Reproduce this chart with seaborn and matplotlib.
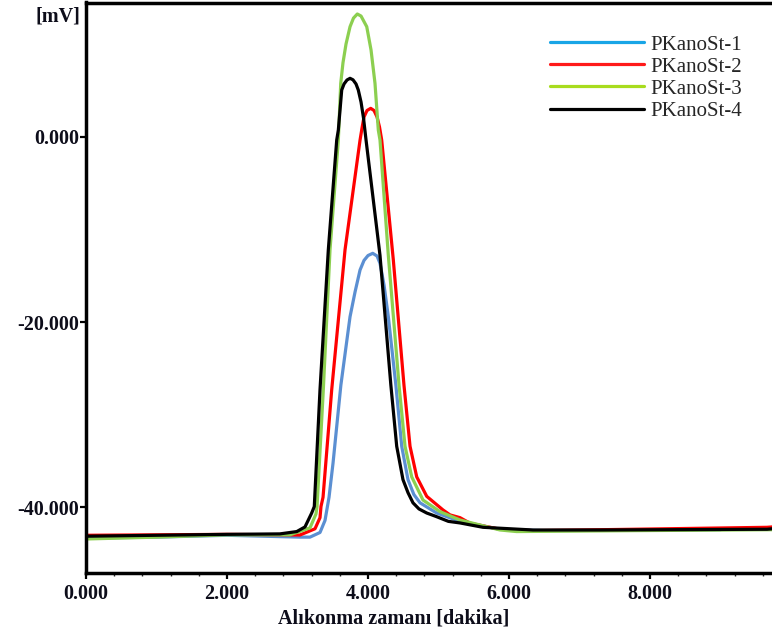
import matplotlib
matplotlib.use("Agg")
import matplotlib.pyplot as plt
from matplotlib.lines import Line2D
from matplotlib.ticker import MultipleLocator, FuncFormatter
import pandas as pd
import seaborn as sns

# retention time [min] and signal [mV]
st1_x = [0.0, 1.0, 2.0, 3.035, 3.177, 3.319, 3.39, 3.447, 3.504, 3.615, 3.745, 3.816,
         3.887, 3.943, 4.0, 4.067, 4.128, 4.17, 4.227, 4.288, 4.395, 4.478, 4.567,
         4.65, 4.738, 4.974, 5.305, 5.404, 5.872, 6.5, 9.0]
st1_y = [-43.3, -43.2, -43.0, -43.2, -43.2, -42.7, -41.4, -38.9, -35.2, -26.8, -19.42, -16.75,
         -14.38, -13.35, -12.82, -12.58, -12.87, -13.66, -16.0, -19.42, -26.8, -33.4, -37.0,
         -38.6, -39.5, -40.6, -41.5, -41.67, -42.35, -42.5, -42.4]

st2_x = [0.0, 1.0, 2.0, 3.035, 3.248, 3.319, 3.333, 3.362, 3.485, 3.674, 3.887, 3.915,
         3.943, 3.986, 4.038, 4.085, 4.128, 4.163, 4.194, 4.359, 4.51, 4.596, 4.691,
         4.833, 5.064, 5.163, 5.305, 5.447, 5.872, 6.34, 7.759, 9.66, 9.73]
st2_y = [-43.0, -42.95, -42.9, -42.97, -42.3, -41.1, -39.9, -38.9, -27.3, -12.2, -0.36, 0.94,
         2.13, 2.83, 3.06, 2.83, 2.13, 1.05, -0.36, -13.3, -26.8, -33.4, -36.7,
         -38.8, -40.27, -40.8, -41.1, -41.7, -42.35, -42.5, -42.35, -42.14, -42.1]

st3_x = [0.0, 1.0, 2.0, 2.894, 3.177, 3.262, 3.277, 3.366, 3.461, 3.579, 3.613, 3.645,
         3.688, 3.745, 3.794, 3.848, 3.901, 3.982, 4.043, 4.099, 4.146, 4.17, 4.288,
         4.44, 4.525, 4.62, 4.78, 5.021, 5.305, 5.872, 6.109, 7.759, 9.177, 9.73]
st3_y = [-43.4, -43.2, -42.95, -42.95, -42.2, -40.7, -39.9, -27.3, -12.2, -0.36, 5.76, 7.98,
         10.0, 11.87, 12.8, 13.24, 13.02, 11.87, 9.35, 5.76, 0.72, -0.36, -12.8,
         -26.8, -33.4, -36.7, -39.2, -40.45, -41.35, -42.43, -42.6, -42.5, -42.43, -42.4]

st4_x = [0.0, 1.0, 2.0, 2.75, 2.989, 3.106, 3.201, 3.238, 3.319, 3.437, 3.556, 3.579,
         3.603, 3.627, 3.66, 3.702, 3.745, 3.787, 3.83, 3.862, 3.901, 3.936, 3.972,
         4.17, 4.324, 4.407, 4.496, 4.567, 4.638, 4.723, 4.833, 4.965, 5.14, 5.305,
         5.631, 6.34, 7.291, 9.66, 9.73]
st4_y = [-43.1, -43.0, -42.9, -42.85, -42.6, -42.1, -40.6, -39.9, -27.3, -12.2, -0.36, 0.72,
         2.88, 5.04, 5.69, 6.12, 6.3, 6.14, 5.69, 5.04, 3.74, 2.02, -0.36,
         -12.8, -26.8, -33.4, -37.0, -38.4, -39.5, -40.16, -40.6, -40.97, -41.5, -41.67,
         -42.14, -42.43, -42.43, -42.35, -42.3]

series_names = ["PKanoSt-1", "PKanoSt-2", "PKanoSt-3", "PKanoSt-4"]
xticks = [0, 2, 4, 6, 8]
yticks = [0, -20, -40]

curves = [(st1_x, st1_y), (st2_x, st2_y), (st3_x, st3_y), (st4_x, st4_y)]
line_colors = ["#5B8FD2", "#FF0000", "#8CCF50", "#000000"]
legend_colors = ["#19A5E6", "#FF1A1A", "#A8DC1E", "#000000"]

sns.set_style("ticks")
plt.rcParams["font.family"] = ["Liberation Serif", "DejaVu Serif"]
plt.rcParams["axes.unicode_minus"] = False

fig = plt.figure(figsize=(7.72, 6.34), dpi=100)
ax = fig.add_axes([86 / 772, 1 - 573 / 634, 1 - 86 / 772, (573 - 2.5) / 634])

for (xs, ys), col in zip(curves, line_colors):
    df = pd.DataFrame({"t": xs, "mv": ys})
    sns.lineplot(data=df, x="t", y="mv", color=col, linewidth=2.3, ax=ax,
                 estimator=None, sort=False)

ax.set_xlim(0, 9.73)
ax.set_ylim(-47.07, 14.48)

ax.set_xticks(xticks)
ax.xaxis.set_minor_locator(MultipleLocator(0.4))
ax.set_yticks(yticks)
fmt = FuncFormatter(lambda v, p: "%.3f" % v)
ax.xaxis.set_major_formatter(fmt)
ax.yaxis.set_major_formatter(fmt)

for lab in ax.get_xticklabels() + ax.get_yticklabels():
    lab.set_fontweight("bold")
ax.tick_params(axis="both", which="major", labelsize=14.5, width=1.6, length=4,
               color="black", labelcolor="#0d0d1a")
ax.tick_params(axis="x", which="major", pad=4)
ax.tick_params(axis="y", which="major", pad=1)
ax.tick_params(axis="x", which="minor", length=2.5, width=1.0)

for side in ["left", "bottom", "top"]:
    ax.spines[side].set_visible(True)
    ax.spines[side].set_linewidth(2.5)
    ax.spines[side].set_color("black")
ax.spines["right"].set_visible(False)

ax.set_xlabel("Alıkonma zamanı [dakika]", fontsize=14.5, fontweight="bold", color="#0d0d1a")
ax.xaxis.set_label_coords((394 - 86) / 686, -0.062)
ax.set_ylabel("")
fig.text(58 / 772, 1 - 16 / 634, "[mV]", fontsize=14.5, fontweight="bold",
         ha="center", va="center", color="#0d0d1a")

handles = [Line2D([0], [0], color=c, linewidth=2.3) for c in legend_colors]
ax.legend(handles, series_names, loc="upper left", frameon=False,
          bbox_to_anchor=(550 / 772, 1 - 35 / 634), bbox_transform=fig.transFigure,
          borderpad=0, borderaxespad=0, handlelength=4.5, handletextpad=0.3,
          labelspacing=0.12, fontsize=15)

fig.savefig("out.png", dpi=100)
